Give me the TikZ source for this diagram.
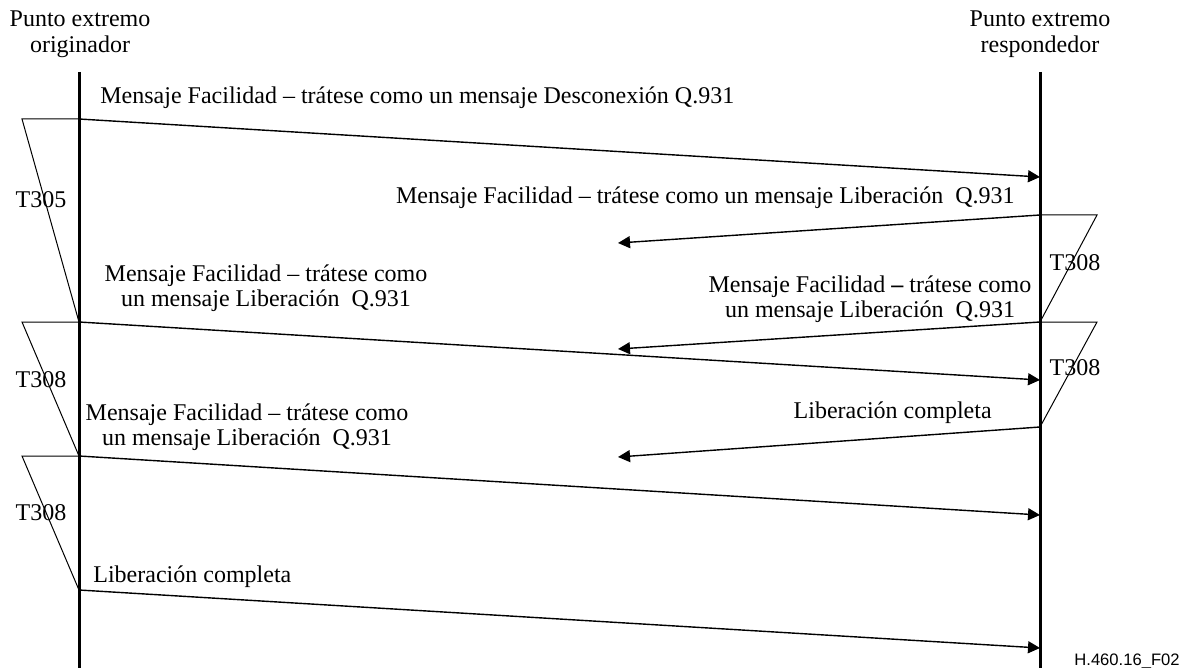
\documentclass[tikz,border=0pt]{standalone}
\usepackage{fontspec}
\setmainfont{Liberation Serif}
\newfontfamily\figsans{Liberation Sans}
\usetikzlibrary{arrows.meta}

\begin{document}
\begin{tikzpicture}[x=0.5pt, y=-0.5pt,
  every node/.style={font=\fontsize{12}{12.5}\selectfont, inner sep=0pt},
  lifeline/.style={line width=1.5pt},
  msg/.style={line width=0.7pt, -{Triangle[length=6pt,width=6pt]}},
  timer/.style={line width=0.5pt}]
\useasboundingbox (0,0) rectangle (1192,668);
% end points
\coordinate (oTop) at (79,72);  \coordinate (oBot) at (79,668);
\coordinate (rTop) at (1040,72); \coordinate (rBot) at (1040,668);
\coordinate (o1) at (79,119); \coordinate (o2) at (79,322); \coordinate (o3) at (79,456); \coordinate (o4) at (79,590);
\coordinate (r1) at (1040,177); \coordinate (r2) at (1040,215); \coordinate (r3) at (1040,322); \coordinate (r4) at (1040,380);
\coordinate (r5) at (1040,427); \coordinate (r6) at (1040,515); \coordinate (r7) at (1040,648);
\coordinate (e2) at (618,243); \coordinate (e3) at (618,349); \coordinate (e5) at (618,457);
\coordinate (tl1) at (22,119); \coordinate (tl2) at (22,322); \coordinate (tl3) at (22,456);
\coordinate (tr1) at (1097,215); \coordinate (tr2) at (1097,322);
% headers (base = last line)
\node[align=center, anchor=base, font=\fontsize{12}{13}\selectfont] (orig) at (80,53) {Punto extremo\\originador};
\node[align=center, anchor=base, font=\fontsize{12}{13}\selectfont] (resp) at (1040,53) {Punto extremo\\respondedor};
% lifelines
\draw[lifeline] (oTop) -- (oBot);
\draw[lifeline] (rTop) -- (rBot);
% messages
\draw[msg] (o1) -- (r1);
\draw[msg] (r2) -- (e2);
\draw[msg] (r3) -- (e3);
\draw[msg] (o2) -- (r4);
\draw[msg] (r5) -- (e5);
\draw[msg] (o3) -- (r6);
\draw[msg] (o4) -- (r7);
% timers
\draw[timer] (o1) -- (tl1) -- (o2);
\draw[timer] (o2) -- (tl2) -- (o3);
\draw[timer] (o3) -- (tl3) -- (o4);
\draw[timer] (r2) -- (tr1) -- (r3);
\draw[timer] (r3) -- (tr2) -- (r5);
\node[anchor=base] (t305) at (41,207) {T305};
\node[anchor=base] (t308a) at (41,387) {T308};
\node[anchor=base] (t308b) at (41,520) {T308};
\node[anchor=base] (t308c) at (1075,270) {T308};
\node[anchor=base] (t308d) at (1075,375) {T308};
% labels
\node[anchor=base west] (m1) at (100,104) {Mensaje Facilidad -- trátese como un mensaje Desconexión Q.931};
\node[anchor=base east] (m2) at (1015,204) {Mensaje Facilidad -- trátese como un mensaje Liberación\ \ Q.931};
\node[align=center, anchor=base] (m3) at (870,317) {Mensaje Facilidad \textbf{--} trátese como\\un mensaje Liberación\ \ Q.931};
\node[align=center, anchor=base] (m4) at (266,306) {Mensaje Facilidad -- trátese como\\un mensaje Liberación\ \ Q.931};
\node[anchor=base east] (m5) at (992,418) {Liberación completa};
\node[align=center, anchor=base] (m6) at (247,445) {Mensaje Facilidad -- trátese como\\un mensaje Liberación\ \ Q.931};
\node[anchor=base west] (m7) at (93,582) {Liberación completa};
\node[anchor=base east, font=\figsans\fontsize{8.3}{10}\selectfont] (figid) at (1180,665) {H.460.16\_F02};
\end{tikzpicture}
\end{document}
